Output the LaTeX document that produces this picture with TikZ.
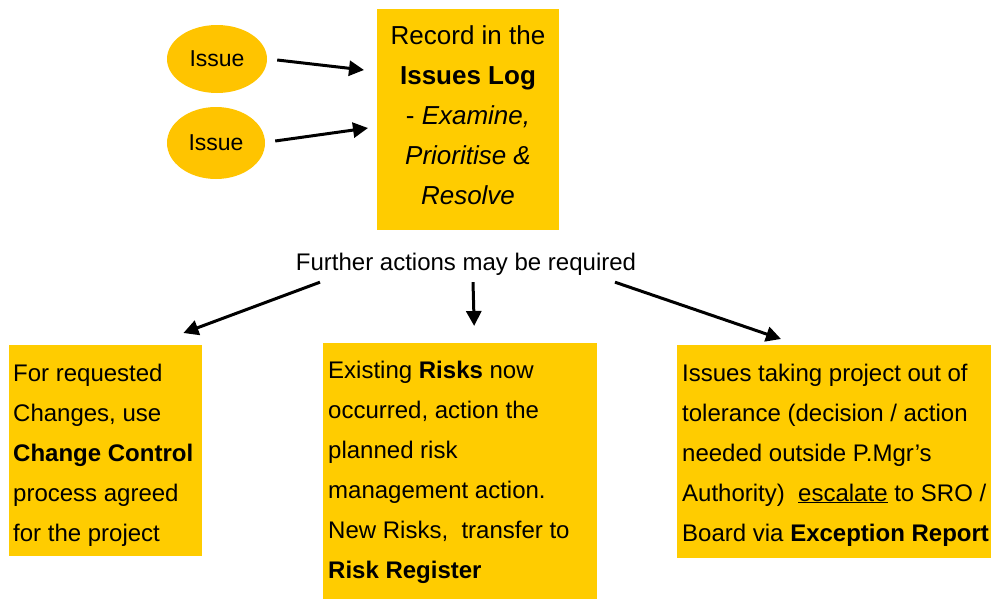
\documentclass[tikz,border=0pt]{standalone}
\usepackage{fontspec}
\setmainfont{Liberation Sans}
\usetikzlibrary{shapes.geometric,arrows.meta,calc}
\definecolor{boxyellow}{HTML}{FFCC00}
\definecolor{ovalyellow}{HTML}{FFC400}
\tikzset{
  box/.style={fill=boxyellow, draw=none, anchor=north west, inner sep=0pt},
  oval/.style={ellipse, fill=ovalyellow, draw=none, inner sep=0pt,
    font=\fontsize{23}{28}\selectfont},
  % multi-line texts are placed by the baseline of their last line
  txt/.style={inner sep=0pt, align=left, anchor=base west,
    font=\fontsize{24}{40}\selectfont},
  arr/.style={line width=3pt, -{Triangle[length=15pt,width=15pt]}},
}
\begin{document}
\begin{tikzpicture}[x=1pt,y=-1pt]
\useasboundingbox (0,0) rectangle (992,600);

% incoming issues
\node[oval, minimum width=100pt, minimum height=68pt] (e1) at (217,59) {Issue};
\node[oval, minimum width=98pt, minimum height=72pt] (e2) at (216,143) {Issue};

% issues log
\node[box, minimum width=182pt, minimum height=221pt] (log) at (377,9) {};
\node[inner sep=0pt, align=center, anchor=base, font=\fontsize{26}{40}\selectfont]
  (logtext) at (468,204)
  {Record in the\\ \textbf{Issues Log}\\ - \textit{Examine,}\\ \textit{Prioritise \&}\\ \textit{Resolve}};

\draw[arr] ($(e1.east)+(10,1)$) -- ($(log.north west)+(-13,61)$);
\draw[arr] ($(e2.east)+(10,-2)$) -- ($(log.north west)+(-9,119)$);

% follow-up actions
\node[inner sep=0pt, anchor=base, font=\fontsize{24}{30}\selectfont]
  (further) at (466,270) {Further actions may be required};

\node[box, minimum width=193pt, minimum height=211pt] (cc) at (9,345) {};
\node[txt] (cctext) at (13,541)
  {For requested\\ Changes, use\\ \textbf{Change Control}\\ process agreed\\ for the project};

\node[box, minimum width=274pt, minimum height=256pt] (rr) at (323,343) {};
\node[txt] (rrtext) at (328,578)
  {Existing \textbf{Risks} now\\ occurred, action the\\ planned risk\\ management action.\\ New Risks,~~transfer to\\ \textbf{Risk Register}};

\node[box, minimum width=314pt, minimum height=213pt] (ex) at (677,345) {};
\node[txt] (extext) at (682,541)
  {Issues taking project out of\\ tolerance (decision / action\\ needed outside P.Mgr’s\\ Authority)~~\underline{escalate} to SRO /\\ Board via \textbf{Exception Report}};

\draw[arr] ($(further.south)+(-146,7)$) -- ($(cc.north east)+(-19,-12)$);
\draw[arr] ($(further.south)+(7,7)$) -- ($(rr.north)+(14,-17)$);
\draw[arr] ($(further.south)+(149,7)$) -- ($(ex.north west)+(104,-6)$);
\end{tikzpicture}
\end{document}
